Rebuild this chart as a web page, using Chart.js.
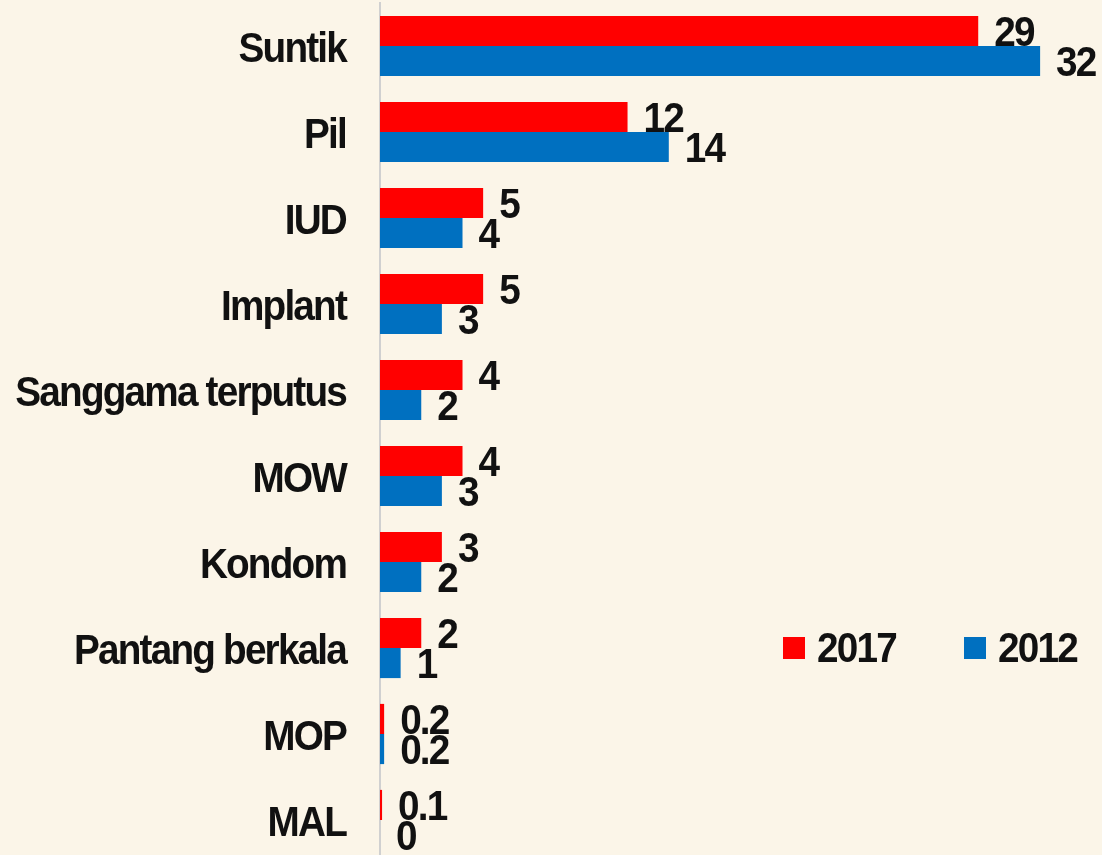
<!DOCTYPE html>
<html>
<head>
<meta charset="utf-8">
<script src="https://cdn.jsdelivr.net/npm/chart.js@4"></script>
<style>
  html, body { margin: 0; padding: 0; overflow: hidden; background: #FBF5E8; }
  #wrap { position: relative; width: 1102px; height: 855px; overflow: hidden; }
  canvas { position: absolute; left: 0; top: 0; }
</style>
</head>
<body>
<div id="wrap">
  <canvas id="chart" width="1102" height="866"></canvas>
</div>
<script>
const categories = ['Suntik', 'Pil', 'IUD', 'Implant', 'Sanggama terputus', 'MOW', 'Kondom', 'Pantang berkala', 'MOP', 'MAL'];
const values2017 = [29, 12, 5, 5, 4, 4, 3, 2, 0.2, 0.1];
const values2012 = [32, 14, 4, 3, 2, 3, 2, 1, 0.2, 0];
const seriesNames = ['2017', '2012'];
const seriesColors = ['#FF0000', '#0070C0'];

const FONT = 'bold 43px "Liberation Sans", Arial, sans-serif';
const SQUEEZE = 0.9;   // the original text is slightly condensed and tightly tracked

// draw text squeezed horizontally, anchored at x
function squeezedText(ctx, text, x, y, align) {
    ctx.save();
    ctx.translate(x, y);
    ctx.scale(SQUEEZE, 1);
    ctx.letterSpacing = '-2px';
    ctx.textAlign = align;
    ctx.fillText(text, 0, 0);
    ctx.restore();
}

const textLayer = {
    id: 'textLayer',
    afterDraw(chart) {
        const ctx = chart.ctx;
        const yScale = chart.scales.y;
        ctx.save();
        ctx.font = FONT;
        ctx.fillStyle = '#111';
        ctx.textBaseline = 'alphabetic';

        // category labels
        chart.data.labels.forEach((lab, i) => {
            squeezedText(ctx, lab, 346, yScale.getPixelForTick(i) + 16, 'right');
        });

        // value labels at the end of each bar
        chart.data.datasets.forEach((ds, i) => {
            chart.getDatasetMeta(i).data.forEach((bar, j) => {
                squeezedText(ctx, String(ds.data[j]), bar.x + 16, bar.y + 15, 'left');
            });
        });

        // legend
        const legendX = [783, 964];
        chart.data.datasets.forEach((ds, i) => {
            ctx.fillStyle = ds.backgroundColor;
            ctx.fillRect(legendX[i], 637, 22, 22);
            ctx.fillStyle = '#111';
            squeezedText(ctx, ds.label, legendX[i] + 34, 662, 'left');
        });
        ctx.restore();
    }
};

new Chart(document.getElementById('chart'), {
    type: 'bar',
    data: {
        labels: categories,
        datasets: [
            { label: seriesNames[0], data: values2017, backgroundColor: seriesColors[0] },
            { label: seriesNames[1], data: values2012, backgroundColor: seriesColors[1] }
        ]
    },
    options: {
        indexAxis: 'y',
        responsive: false,
        animation: false,
        datasets: { bar: { categoryPercentage: 0.7, barPercentage: 1.0 } },
        layout: { padding: { top: 3, bottom: 3, left: 0, right: 0 } },
        plugins: { legend: { display: false }, tooltip: { enabled: false } },
        scales: {
            x: { display: false, min: 0, max: 35 },
            y: {
                grid: { display: false, drawTicks: false },
                border: { display: true, color: '#D0D0D0', width: 2 },
                ticks: { display: false },
                afterFit(scale) {
                    scale.width = 380;
                    scale.paddingTop = 0;
                    scale.paddingBottom = 0;
                }
            }
        }
    },
    plugins: [textLayer]
});
</script>
</body>
</html>
